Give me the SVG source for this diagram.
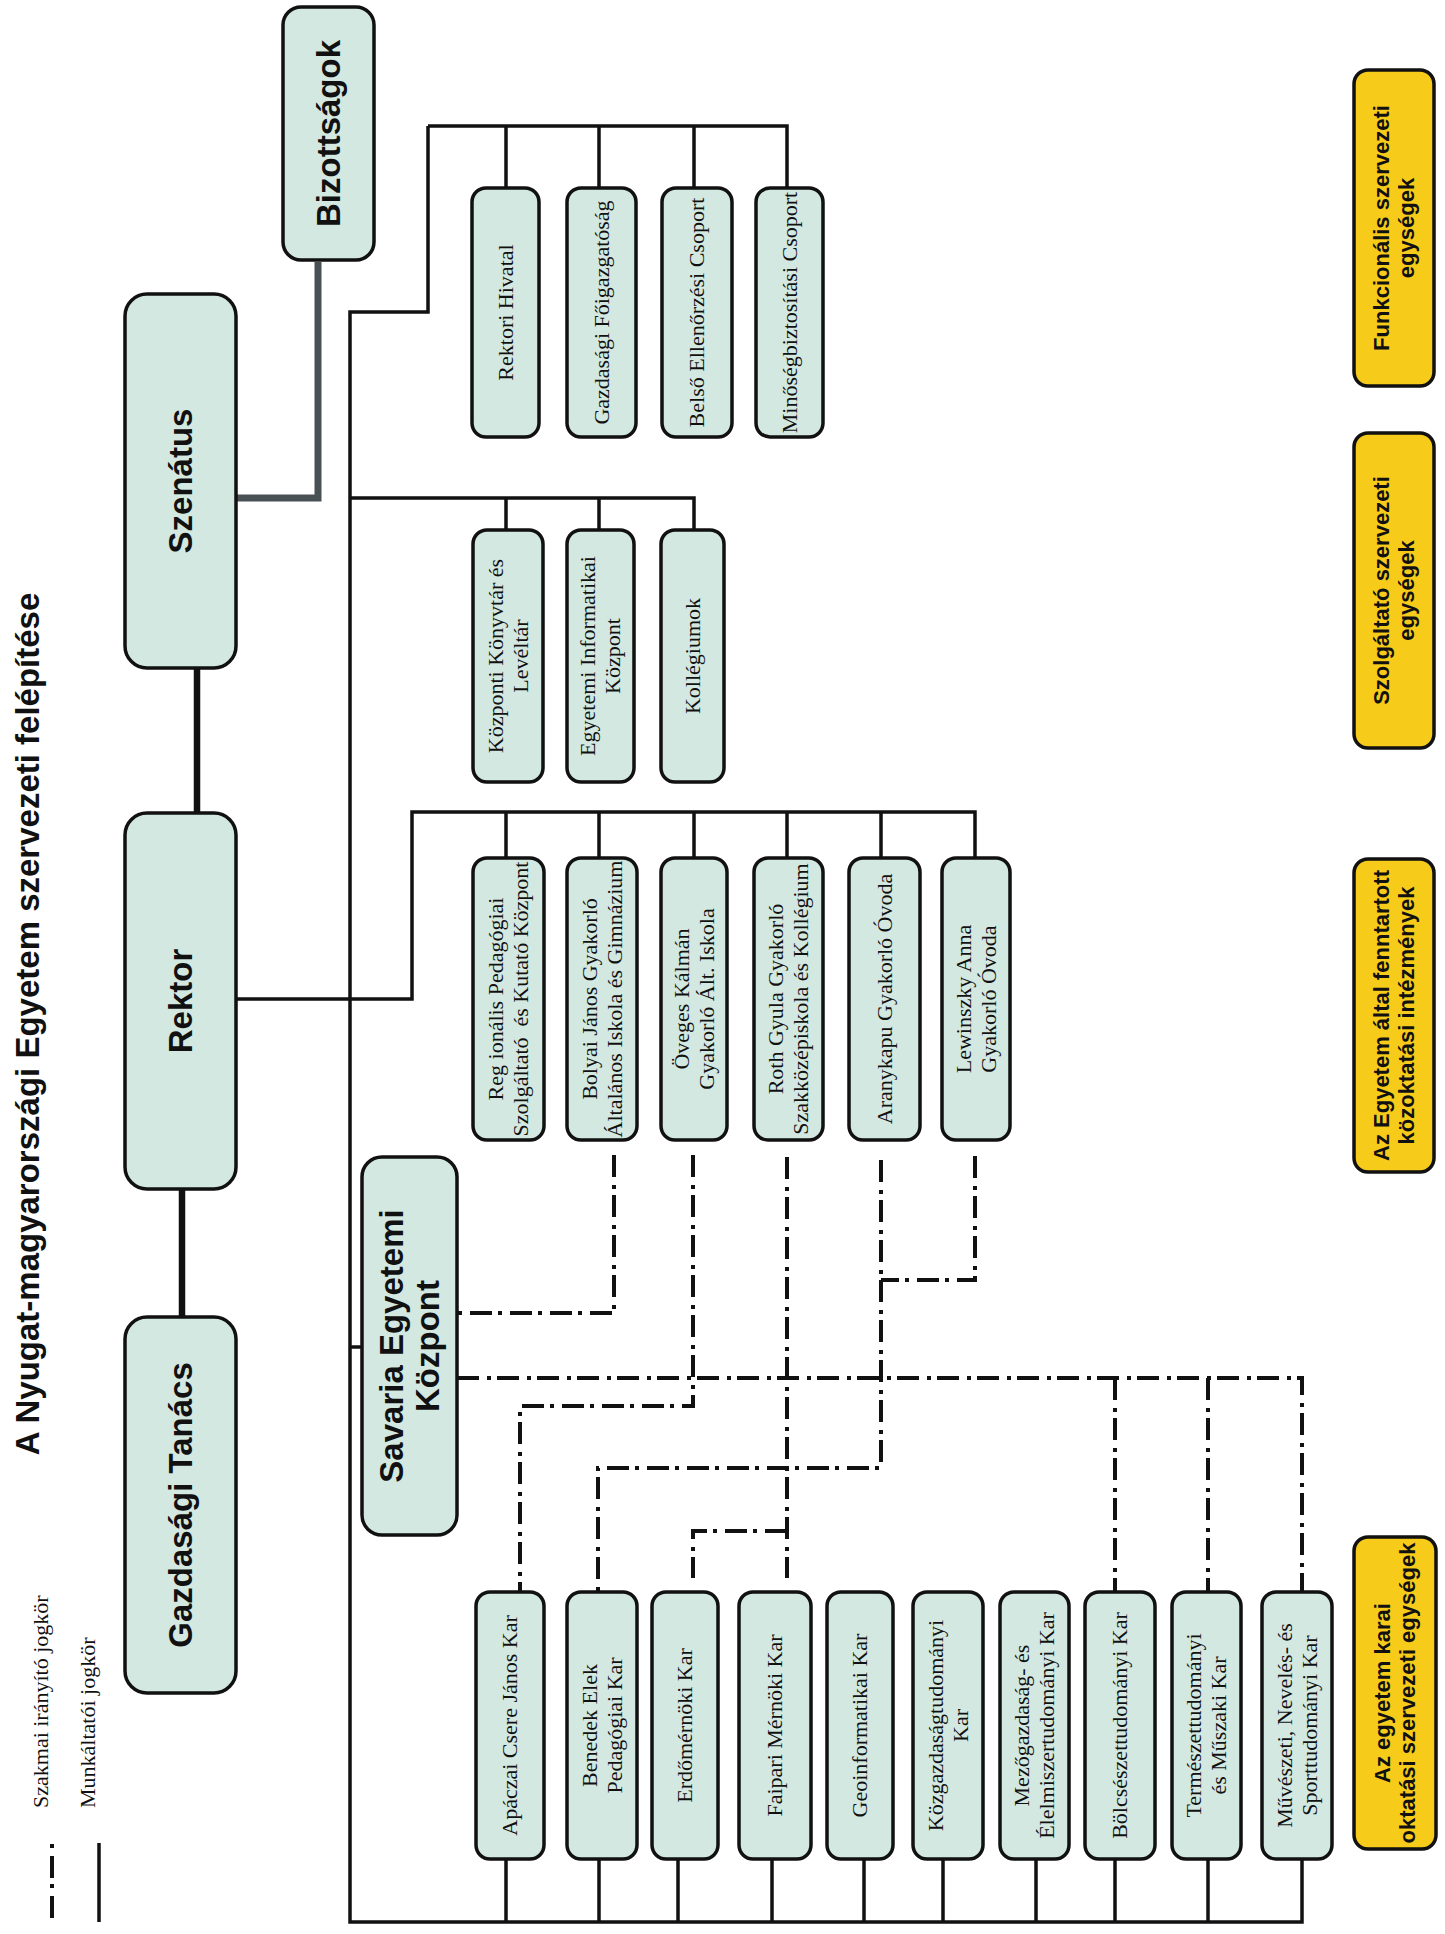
<svg xmlns="http://www.w3.org/2000/svg" width="1445" height="1934" viewBox="0 0 1445 1934">
<style>
.bx{fill:#d3e8e1;stroke:#111;stroke-width:3.5}
.yb{fill:#f7cb19;stroke:#111;stroke-width:3.5}
.s{font-family:"Liberation Serif","Times New Roman",serif;font-size:22px;fill:#111;text-anchor:middle}
.b{font-family:"Liberation Sans",Arial,sans-serif;font-weight:bold;font-size:33px;fill:#111;text-anchor:middle}
.bs{font-family:"Liberation Sans",Arial,sans-serif;font-weight:bold;font-size:22px;fill:#111;text-anchor:middle}
.ln{fill:none;stroke:#111;stroke-width:3.5}
.thick{fill:none;stroke:#111;stroke-width:6.5}
.gray{fill:none;stroke:#495154;stroke-width:7}
.dd{fill:none;stroke:#111;stroke-width:4;stroke-dasharray:22 8 4 6}
</style>
<rect width="1445" height="1934" fill="#fff"/>

<text class="b" transform="translate(27,1024) rotate(-90)"><tspan x="0" y="11.5">A Nyugat-magyarországi Egyetem szervezeti felépítése</tspan></text>

<g id="connectors">
  <path class="gray" d="M318,262 V498 H237"/>
  <path class="thick" d="M197,668 V813"/>
  <path class="thick" d="M182,1189 V1317"/>
  <path class="ln" d="M428,126 H787 V188 M506,126 V188 M599,126 V188 M694,126 V188"/>
  <path class="ln" d="M428,126 V312 H350 V1922 H1302 V1859"/>
  <path class="ln" d="M350,498 H694 V530 M506,498 V530 M599,498 V530"/>
  <path class="ln" d="M237,999 H412 V812 H975 V858 M506,812 V858 M599,812 V858 M694,812 V858 M787,812 V858 M881,812 V858"/>
  <path class="ln" d="M350,1347 H362"/>
  <path class="ln" d="M506,1859 V1922 M599,1859 V1922 M678,1859 V1922 M772,1859 V1922 M864,1859 V1922 M943,1859 V1922 M1036,1859 V1922 M1115,1859 V1922 M1208,1859 V1922"/>
  <path class="dd" d="M614,1155 V1313 H457"/>
  <path class="dd" d="M457,1378 H1302 V1592"/>
  <path class="dd" d="M1115,1378 V1592"/>
  <path class="dd" d="M1208,1378 V1592"/>
  <path class="dd" d="M693,1155 V1406 H520 V1592"/>
  <path class="dd" d="M881,1160 V1468 H598 V1592"/>
  <path class="dd" d="M975,1156 V1280 H881"/>
  <path class="dd" d="M787,1157 V1578"/>
  <path class="dd" d="M787,1531 H693 V1578"/>
</g>

<g id="legend">
  <path class="dd" d="M52,1918 V1843"/>
  <path class="ln" d="M99,1922 V1843"/>
  <text class="s" style="text-anchor:start" transform="translate(48,1808) rotate(-90)">Szakmai irányító jogkör</text>
  <text class="s" style="text-anchor:start" transform="translate(95,1808) rotate(-90)">Munkáltatói jogkör</text>
</g>

<g id="bizottsagok"><rect class="bx" x="283" y="7" width="91" height="253" rx="18"/><text class="b" transform="translate(328.5,133.5) rotate(-90)"><tspan x="0" y="11.5">Bizottságok</tspan></text></g>
<g id="szenatus"><rect class="bx" x="125" y="294" width="111" height="374" rx="22"/><text class="b" transform="translate(180.5,481) rotate(-90)"><tspan x="0" y="11.5">Szenátus</tspan></text></g>
<g id="rektor"><rect class="bx" x="125" y="813" width="111" height="376" rx="22"/><text class="b" transform="translate(180.5,1001) rotate(-90)"><tspan x="0" y="11.5">Rektor</tspan></text></g>
<g id="gazdasagi-tanacs"><rect class="bx" x="125" y="1317" width="111" height="376" rx="22"/><text class="b" transform="translate(180.5,1505) rotate(-90)"><tspan x="0" y="11.5">Gazdasági Tanács</tspan></text></g>
<g id="savaria"><rect class="bx" x="362" y="1157" width="95" height="378" rx="20"/><text class="b" transform="translate(409.5,1346) rotate(-90)"><tspan x="0" y="-6.5">Savaria Egyetemi</tspan><tspan x="0" y="29.5">Központ</tspan></text></g>

<g id="rektori-hivatal"><rect class="bx" x="472" y="188" width="67" height="249" rx="14"/><text class="s" transform="translate(505.5,312.5) rotate(-90)"><tspan x="0" y="7">Rektori Hivatal</tspan></text></g>
<g id="gazdasagi-foigazgatosag"><rect class="bx" x="567" y="188" width="69" height="249" rx="14"/><text class="s" transform="translate(601.5,312.5) rotate(-90)"><tspan x="0" y="7">Gazdasági Főigazgatóság</tspan></text></g>
<g id="belso-ellenorzesi"><rect class="bx" x="662" y="188" width="70" height="249" rx="14"/><text class="s" transform="translate(697,312.5) rotate(-90)"><tspan x="0" y="7">Belső Ellenőrzési Csoport</tspan></text></g>
<g id="minosegbiztositasi"><rect class="bx" x="756" y="188" width="67" height="249" rx="14"/><text class="s" transform="translate(789.5,312.5) rotate(-90)"><tspan x="0" y="7">Minőségbiztosítási Csoport</tspan></text></g>

<g id="konyvtar"><rect class="bx" x="473" y="530" width="70" height="252" rx="14"/><text class="s" transform="translate(508,656) rotate(-90)"><tspan x="0" y="-5.5">Központi Könyvtár és</tspan><tspan x="0" y="19.5">Levéltár</tspan></text></g>
<g id="informatikai"><rect class="bx" x="567" y="530" width="67" height="252" rx="14"/><text class="s" transform="translate(600.5,656) rotate(-90)"><tspan x="0" y="-5.5">Egyetemi Informatikai</tspan><tspan x="0" y="19.5">Központ</tspan></text></g>
<g id="kollegiumok"><rect class="bx" x="661" y="530" width="63" height="252" rx="14"/><text class="s" transform="translate(692.5,656) rotate(-90)"><tspan x="0" y="7">Kollégiumok</tspan></text></g>

<g id="regionalis"><rect class="bx" x="473" y="858" width="71" height="282" rx="14"/><text class="s" style="white-space:pre" transform="translate(508.5,999) rotate(-90)"><tspan x="0" y="-5.5">Reg ionális Pedagógiai</tspan><tspan x="0" y="19.5">Szolgáltató  és Kutató Központ</tspan></text></g>
<g id="bolyai"><rect class="bx" x="567" y="858" width="70" height="282" rx="14"/><text class="s" transform="translate(602,999) rotate(-90)"><tspan x="0" y="-5.5">Bolyai János Gyakorló</tspan><tspan x="0" y="19.5">Általános Iskola és Gimnázium</tspan></text></g>
<g id="oveges"><rect class="bx" x="661" y="858" width="66" height="282" rx="14"/><text class="s" transform="translate(694,999) rotate(-90)"><tspan x="0" y="-5.5">Öveges Kálmán</tspan><tspan x="0" y="19.5">Gyakorló Ált. Iskola</tspan></text></g>
<g id="roth"><rect class="bx" x="754" y="858" width="69" height="282" rx="14"/><text class="s" transform="translate(788.5,999) rotate(-90)"><tspan x="0" y="-5.5">Roth Gyula Gyakorló</tspan><tspan x="0" y="19.5">Szakközépiskola és Kollégium</tspan></text></g>
<g id="aranykapu"><rect class="bx" x="849" y="858" width="71" height="282" rx="14"/><text class="s" transform="translate(884.5,999) rotate(-90)"><tspan x="0" y="7">Aranykapu Gyakorló Óvoda</tspan></text></g>
<g id="lewinszky"><rect class="bx" x="942" y="858" width="68" height="282" rx="14"/><text class="s" transform="translate(976,999) rotate(-90)"><tspan x="0" y="-5.5">Lewinszky Anna</tspan><tspan x="0" y="19.5">Gyakorló Óvoda</tspan></text></g>

<g id="apaczai"><rect class="bx" x="476" y="1592" width="68" height="267" rx="14"/><text class="s" transform="translate(510,1725.5) rotate(-90)"><tspan x="0" y="7">Apáczai Csere János Kar</tspan></text></g>
<g id="benedek"><rect class="bx" x="567" y="1592" width="70" height="267" rx="14"/><text class="s" transform="translate(602,1725.5) rotate(-90)"><tspan x="0" y="-5.5">Benedek Elek</tspan><tspan x="0" y="19.5">Pedagógiai Kar</tspan></text></g>
<g id="erdomernoki"><rect class="bx" x="652" y="1592" width="66" height="267" rx="14"/><text class="s" transform="translate(685,1725.5) rotate(-90)"><tspan x="0" y="7">Erdőmérnöki Kar</tspan></text></g>
<g id="faipari"><rect class="bx" x="739" y="1592" width="72" height="267" rx="14"/><text class="s" transform="translate(775,1725.5) rotate(-90)"><tspan x="0" y="7">Faipari Mérnöki Kar</tspan></text></g>
<g id="geoinformatikai"><rect class="bx" x="827" y="1592" width="66" height="267" rx="14"/><text class="s" transform="translate(860,1725.5) rotate(-90)"><tspan x="0" y="7">Geoinformatikai Kar</tspan></text></g>
<g id="kozgazdasag"><rect class="bx" x="913" y="1592" width="70" height="267" rx="14"/><text class="s" transform="translate(948,1725.5) rotate(-90)"><tspan x="0" y="-5.5">Közgazdaságtudományi</tspan><tspan x="0" y="19.5">Kar</tspan></text></g>
<g id="mezogazdasag"><rect class="bx" x="1000" y="1592" width="69" height="267" rx="14"/><text class="s" transform="translate(1034.5,1725.5) rotate(-90)"><tspan x="0" y="-5.5">Mezőgazdaság- és</tspan><tspan x="0" y="19.5">Élelmiszertudományi Kar</tspan></text></g>
<g id="bolcseszet"><rect class="bx" x="1085" y="1592" width="70" height="267" rx="14"/><text class="s" transform="translate(1120,1725.5) rotate(-90)"><tspan x="0" y="7">Bölcsészettudományi Kar</tspan></text></g>
<g id="termeszet"><rect class="bx" x="1172" y="1592" width="69" height="267" rx="14"/><text class="s" transform="translate(1206.5,1725.5) rotate(-90)"><tspan x="0" y="-5.5">Természettudományi</tspan><tspan x="0" y="19.5">és Műszaki Kar</tspan></text></g>
<g id="muveszeti"><rect class="bx" x="1262" y="1592" width="70" height="267" rx="14"/><text class="s" transform="translate(1297,1725.5) rotate(-90)"><tspan x="0" y="-5.5">Művészeti, Nevelés- és</tspan><tspan x="0" y="19.5">Sporttudományi Kar</tspan></text></g>

<g id="funkcionalis"><rect class="yb" x="1354" y="70" width="80" height="316" rx="14"/><text class="bs" transform="translate(1394,228) rotate(-90)"><tspan x="0" y="-5.5">Funkcionális szervezeti</tspan><tspan x="0" y="19.5">egységek</tspan></text></g>
<g id="szolgaltato"><rect class="yb" x="1354" y="433" width="80" height="315" rx="14"/><text class="bs" transform="translate(1394,590.5) rotate(-90)"><tspan x="0" y="-5.5">Szolgáltató szervezeti</tspan><tspan x="0" y="19.5">egységek</tspan></text></g>
<g id="kozoktatasi"><rect class="yb" x="1354" y="859" width="80" height="313" rx="14"/><text class="bs" transform="translate(1394,1015.5) rotate(-90)"><tspan x="0" y="-5.5">Az Egyetem által fenntartott</tspan><tspan x="0" y="19.5">közoktatási intézmények</tspan></text></g>
<g id="karai"><rect class="yb" x="1354" y="1537" width="82" height="312" rx="14"/><text class="bs" transform="translate(1395,1693) rotate(-90)"><tspan x="0" y="-5.5">Az egyetem karai</tspan><tspan x="0" y="19.5">oktatási szervezeti egységek</tspan></text></g>
</svg>
